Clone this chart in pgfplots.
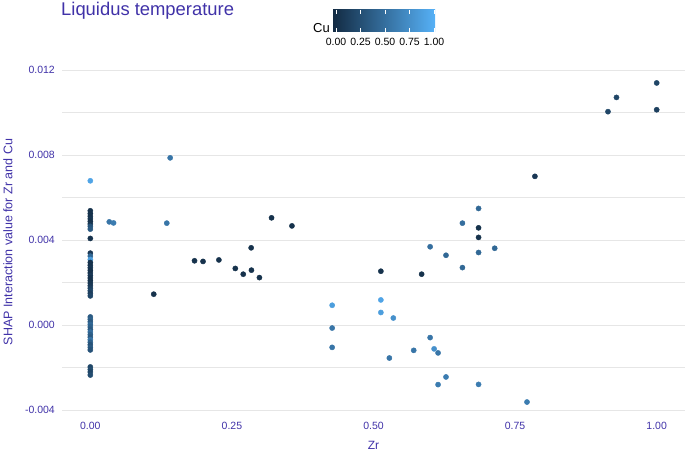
\documentclass[border=0pt]{standalone}
\usepackage{pgfplots}
\pgfplotsset{compat=1.18}
\usepackage{fontspec}
\setmainfont{Liberation Sans}
\definecolor{labpurple}{RGB}{64,50,168}
\definecolor{gridgray}{RGB}{230,230,230}
\definecolor{cuLow}{RGB}{19,43,67}
\definecolor{cuHigh}{RGB}{86,177,247}
\begin{document}
\begin{tikzpicture}[x=1pt,y=1pt]
\useasboundingbox (-62,-35) rectangle (623,418);
\begin{axis}[
  at={(0,0)}, anchor=south west,
  scale only axis, width=623pt, height=351pt,
  xmin=-0.05, xmax=1.05, ymin=-0.00436, ymax=0.01214,
  axis line style={draw=none},
  major tick length=0pt, minor tick length=0pt,
  xtick={0,0.25,0.5,0.75,1},
  xticklabels={0.00,0.25,0.50,0.75,1.00},
  ytick={-0.004,0,0.004,0.008,0.012},
  yticklabels={-0.004,0.000,0.004,0.008,0.012},
  minor ytick={-0.002,0.002,0.006,0.010},
  scaled y ticks=false,
  ymajorgrids, yminorgrids,
  major grid style={gridgray, line width=0.9pt},
  minor grid style={gridgray, line width=0.9pt},
  tick label style={font=\fontsize{10.5}{12}\selectfont, text=labpurple, inner sep=0pt},
  yticklabel style={xshift=-7pt},
  xticklabel style={yshift=-4pt},
  colormap={cu}{rgb255(0cm)=(19,43,67) rgb255(1cm)=(86,177,247)},
  point meta min=0, point meta max=1,
  clip=false,
]
\addplot[scatter, only marks, mark=*, mark size=2.6pt,
  scatter src=explicit,
  scatter/use mapped color={draw=mapped color, fill=mapped color}]
table[x=x, y=y, meta=c] {
x y c
0 0.00679 0.9
0 0.00538 0.05
0 0.00525 0.05
0 0.00512 0.05
0 0.00500 0.08
0 0.00488 0.05
0 0.00476 0.08
0 0.00465 0.3
0 0.00452 0.35
0 0.00408 0.05
0 0.00339 0.1
0 0.00325 0.45
0 0.00309 0.85
0 0.00295 0.05
0 0.00282 0.05
0 0.00270 0.08
0 0.00258 0.05
0 0.00246 0.05
0 0.00234 0.1
0 0.00222 0.05
0 0.00210 0.05
0 0.00198 0.08
0 0.00186 0.1
0 0.00174 0.15
0 0.00162 0.2
0 0.00150 0.15
0 0.00138 0.2
0 0.00039 0.35
0 0.00028 0.4
0 0.00016 0.35
0 0.00004 0.45
0 -0.00008 0.4
0 -0.00020 0.35
0 -0.00032 0.5
0 -0.00044 0.4
0 -0.00056 0.35
0 -0.00068 0.55
0 -0.00080 0.4
0 -0.00092 0.3
0 -0.00104 0.35
0 -0.00116 0.3
0 -0.00196 0.2
0 -0.00208 0.25
0 -0.00220 0.2
0 -0.00234 0.25
0.0335 0.00486 0.55
0.041 0.00481 0.6
0.135 0.00480 0.55
0.141 0.00787 0.55
0.112 0.00146 0.05
0.184 0.00303 0.05
0.199 0.00300 0.05
0.227 0.00307 0.05
0.256 0.00267 0.05
0.270 0.00240 0.05
0.2845 0.00259 0.05
0.284 0.00364 0.05
0.2986 0.00224 0.05
0.320 0.00505 0.05
0.356 0.00467 0.05
0.427 0.00094 0.85
0.427 -0.00013 0.55
0.427 -0.00104 0.55
0.513 0.00119 0.9
0.513 0.00060 0.85
0.535 0.00034 0.75
0.528 -0.00154 0.55
0.571 -0.00118 0.55
0.600 -0.00058 0.55
0.607 -0.00111 0.75
0.614 -0.00130 0.55
0.628 -0.00243 0.6
0.614 -0.00279 0.6
0.6855 -0.00278 0.6
0.771 -0.00361 0.6
0.513 0.00254 0.05
0.585 0.00240 0.05
0.600 0.00369 0.5
0.628 0.00329 0.45
0.657 0.00480 0.5
0.657 0.00271 0.45
0.6855 0.00549 0.45
0.6855 0.00458 0.05
0.6855 0.00413 0.05
0.6855 0.00342 0.45
0.714 0.00362 0.45
0.785 0.00700 0.1
0.914 0.01004 0.2
0.929 0.01071 0.2
1.000 0.01139 0.2
1.000 0.01013 0.15
};
\end{axis}
% title
\node[anchor=base west, inner sep=0pt, text=labpurple, font=\fontsize{18.4}{20}\selectfont] at (-1,402.5) {Liquidus temperature};
% axis labels
\node[anchor=base, inner sep=0pt, text=labpurple, font=\fontsize{12}{14}\selectfont] at (311.5,-31) {Zr};
\node[anchor=center, rotate=90, inner sep=0pt, text=labpurple, font=\fontsize{12.5}{14}\selectfont] at (-54,176) {SHAP Interaction value for Zr and Cu};
% colour legend
\shade[left color=cuLow, right color=cuHigh] (271,386) rectangle (373,408);
\foreach \xx in {274,298.5,323,347.5,372}{
  \draw[white, line width=0.6pt] (\xx,386) -- (\xx,390);
  \draw[white, line width=0.6pt] (\xx,408) -- (\xx,404);
}
\foreach \xx/\lab in {274/0.00,298.5/0.25,323/0.50,347.5/0.75,372/1.00}{
  \node[anchor=center, inner sep=0pt, font=\fontsize{10.5}{12}\selectfont] at (\xx,376) {\lab};
}
\node[anchor=base east, inner sep=0pt, font=\fontsize{13}{14}\selectfont] at (268,385.5) {Cu};
\end{tikzpicture}
\end{document}
